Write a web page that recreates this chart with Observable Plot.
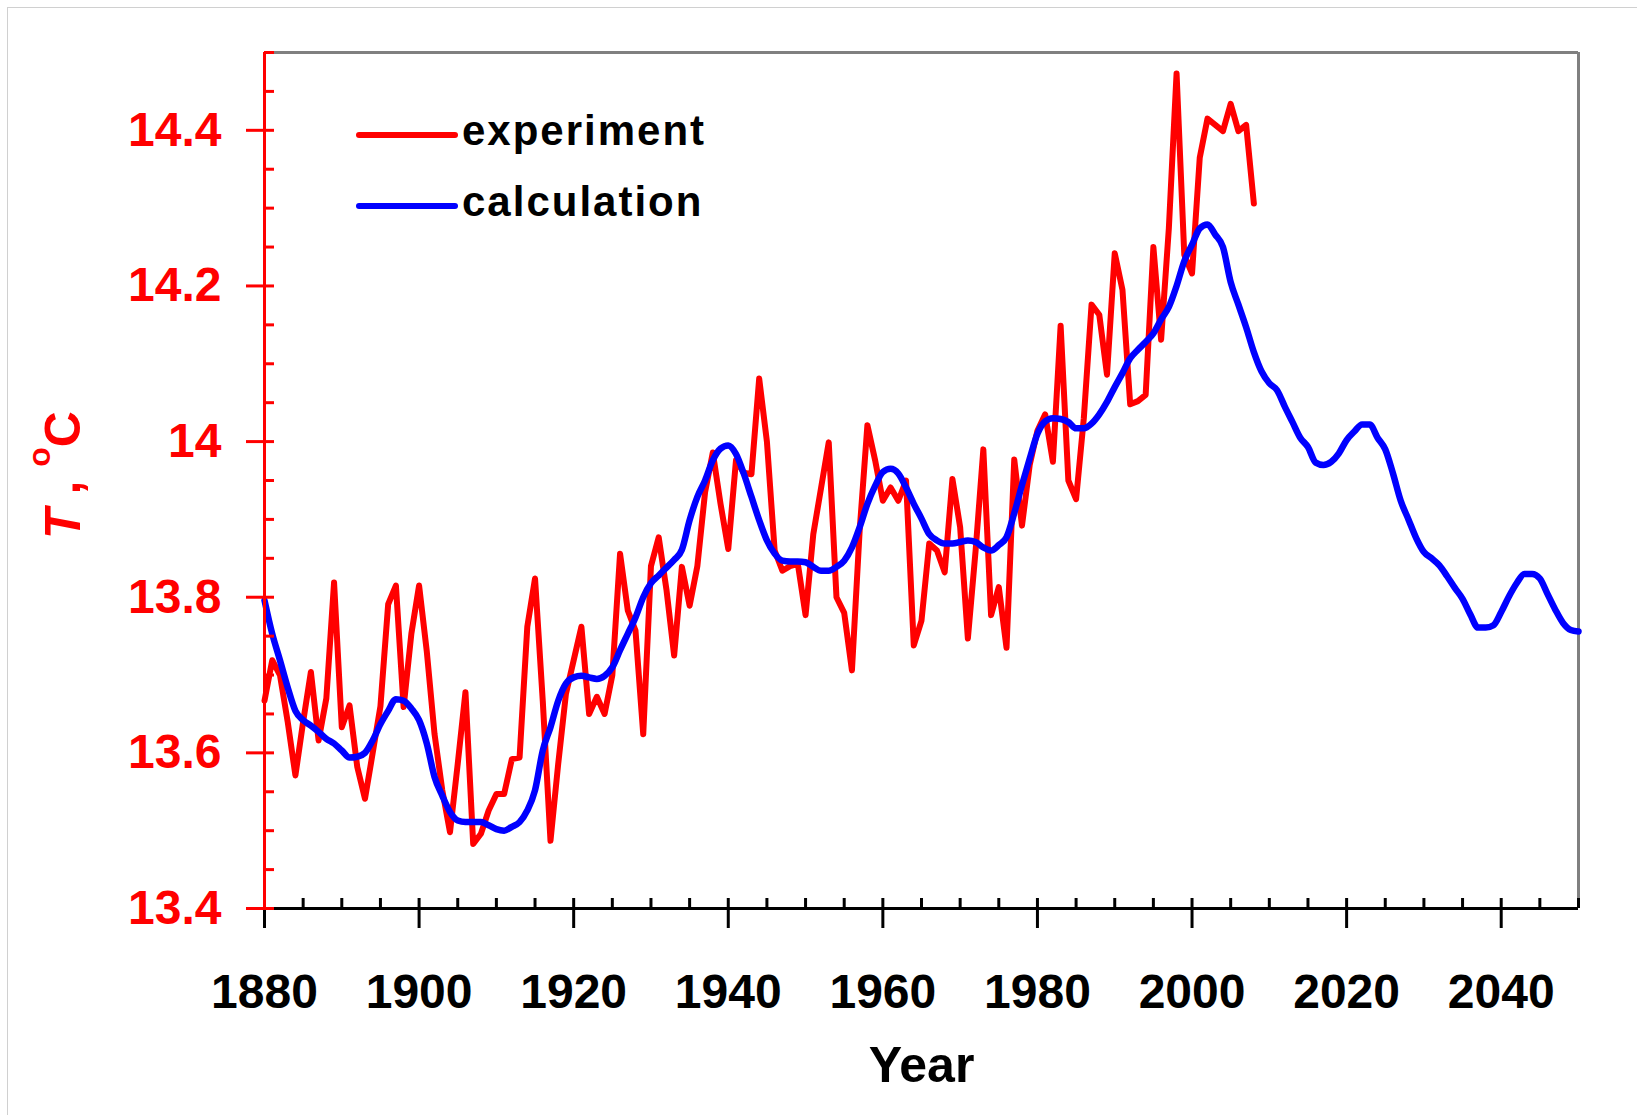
<!DOCTYPE html>
<html>
<head>
<meta charset="utf-8">
<script src="https://cdn.jsdelivr.net/npm/d3@7"></script>
<script src="https://cdn.jsdelivr.net/npm/@observablehq/plot@0.6"></script>
<style>
  html, body { margin: 0; padding: 0; background: #fff; }
  #chart { position: relative; width: 1637px; height: 1115px; }
  #chart svg { display: block; }
</style>
</head>
<body>
<div id="chart"></div>
<script>
// ---------------- DATA ----------------
const startYear = 1880;

// experiment: annual mean temperature, 1880..2008
const experiment = [
  13.667, 13.719, 13.700, 13.640, 13.571, 13.640, 13.704, 13.616, 13.670, 13.819,
  13.633, 13.661, 13.582, 13.541, 13.600, 13.660, 13.791, 13.815, 13.659, 13.753,
  13.815, 13.730, 13.624, 13.552, 13.498, 13.586, 13.678, 13.483, 13.496, 13.526,
  13.547, 13.547, 13.592, 13.594, 13.762, 13.824, 13.667, 13.487, 13.586, 13.676,
  13.719, 13.762, 13.650, 13.672, 13.650, 13.700, 13.856, 13.783, 13.757, 13.624,
  13.840, 13.877, 13.810, 13.725, 13.839, 13.789, 13.840, 13.935, 13.986, 13.920,
  13.862, 13.976, 13.960, 13.958, 14.081, 14.000, 13.860, 13.834, 13.840, 13.843,
  13.777, 13.881, 13.940, 13.999, 13.800, 13.780, 13.706, 13.886, 14.021, 13.976,
  13.924, 13.941, 13.924, 13.950, 13.738, 13.770, 13.869, 13.860, 13.832, 13.952,
  13.890, 13.747, 13.860, 13.990, 13.777, 13.813, 13.735, 13.977, 13.892, 13.970,
  14.014, 14.035, 13.974, 14.149, 13.950, 13.926, 14.030, 14.176, 14.163, 14.086,
  14.242, 14.195, 14.048, 14.052, 14.060, 14.250, 14.131, 14.274, 14.473, 14.240,
  14.216, 14.365, 14.415, 14.407, 14.399, 14.434, 14.399, 14.407, 14.306
];

// calculation: model curve, 1880..2050
const calculation = [
  13.796, 13.753, 13.719, 13.684, 13.654, 13.642, 13.635, 13.627, 13.618, 13.612,
  13.603, 13.594, 13.595, 13.600, 13.616, 13.637, 13.654, 13.669, 13.667, 13.657,
  13.642, 13.612, 13.569, 13.545, 13.524, 13.513, 13.511, 13.511, 13.511, 13.507,
  13.502, 13.500, 13.505, 13.511, 13.526, 13.552, 13.603, 13.633, 13.667, 13.689,
  13.697, 13.699, 13.697, 13.695, 13.699, 13.710, 13.732, 13.753, 13.774, 13.800,
  13.818, 13.828, 13.838, 13.848, 13.861, 13.899, 13.929, 13.950, 13.976, 13.991,
  13.995, 13.984, 13.959, 13.929, 13.899, 13.873, 13.856, 13.847, 13.846, 13.846,
  13.845, 13.839, 13.834, 13.834, 13.839, 13.847, 13.864, 13.890, 13.920, 13.943,
  13.961, 13.965, 13.959, 13.941, 13.920, 13.901, 13.881, 13.873, 13.869, 13.869,
  13.871, 13.873, 13.871, 13.864, 13.860, 13.867, 13.877, 13.908, 13.944, 13.978,
  14.010, 14.026, 14.030, 14.029, 14.025, 14.017, 14.017, 14.023, 14.035, 14.051,
  14.070, 14.088, 14.107, 14.118, 14.128, 14.139, 14.157, 14.173, 14.200, 14.232,
  14.253, 14.274, 14.279, 14.266, 14.250, 14.205, 14.176, 14.147, 14.115, 14.090,
  14.075, 14.066, 14.045, 14.025, 14.005, 13.993, 13.973, 13.970, 13.974, 13.985,
  14.002, 14.013, 14.022, 14.022, 14.005, 13.990, 13.959, 13.924, 13.900, 13.876,
  13.858, 13.850, 13.841, 13.827, 13.812, 13.798, 13.778, 13.761, 13.761, 13.764,
  13.781, 13.801, 13.818, 13.830, 13.830, 13.824, 13.804, 13.784, 13.767, 13.758,
  13.756
];

const seriesNames = ["experiment", "calculation"];
const yMajorTicks = [13.4, 13.6, 13.8, 14.0, 14.2, 14.4];
const yTickLabels = ["13.4", "13.6", "13.8", "14", "14.2", "14.4"];
const yMinorTicks = [13.45, 13.5, 13.55, 13.65, 13.7, 13.75, 13.85, 13.9, 13.95,
                     14.05, 14.1, 14.15, 14.25, 14.3, 14.35, 14.45, 14.5];
const xMajorTicks = [1880, 1900, 1920, 1940, 1960, 1980, 2000, 2020, 2040];
const xTickLabels = ["1880", "1900", "1920", "1940", "1960", "1980", "2000", "2020", "2040"];
const xMinorTicks = [1885, 1890, 1895, 1905, 1910, 1915, 1925, 1930, 1935, 1945, 1950, 1955,
                     1965, 1970, 1975, 1985, 1990, 1995, 2005, 2010, 2015, 2025, 2030, 2035,
                     2045, 2050];
const xLabel = "Year";

// ---------------- CHART ----------------
const expData = experiment.map((t, i) => ({ year: startYear + i, t }));
const calcData = calculation.map((t, i) => ({ year: startYear + i, t }));

const RED = "#ff0000", BLUE = "#0000ff", GRAY = "#808080";
const FONT = "'Liberation Sans', Arial, Helvetica, sans-serif";

const chart = Plot.plot({
  width: 1637,
  height: 1115,
  marginLeft: 264,
  marginRight: 59,
  marginTop: 52,
  marginBottom: 207,
  style: { fontFamily: FONT, fontWeight: "bold", background: "white", overflow: "visible" },
  x: { domain: [1880, 2050] },
  y: { domain: [13.4, 14.5] },
  marks: [
    // gray frame top & right
    Plot.ruleY([14.5], { stroke: GRAY, strokeWidth: 3 }),
    Plot.ruleX([2050], { stroke: GRAY, strokeWidth: 3 }),
    // data
    Plot.line(expData, { x: "year", y: "t", stroke: RED, strokeWidth: 6, strokeLinejoin: "round", strokeLinecap: "round" }),
    Plot.line(calcData, { x: "year", y: "t", stroke: BLUE, strokeWidth: 6.5, curve: "monotone-x", strokeLinejoin: "round", strokeLinecap: "round" }),
    // x axis line + ticks
    Plot.ruleY([13.4], { stroke: "black", strokeWidth: 3 }),
    Plot.axisX({ ticks: xMajorTicks, anchor: "bottom", tickSize: 30, dy: -10, stroke: "black", strokeWidth: 3, fill: "none", label: null }),
    Plot.axisX({ ticks: xMinorTicks, anchor: "bottom", tickSize: 10, dy: -10, stroke: "black", strokeWidth: 3, fill: "none", label: null }),
    Plot.axisX({ ticks: xMajorTicks, anchor: "bottom", tickSize: 0, tickPadding: 65,
                 tickFormat: d => xTickLabels[xMajorTicks.indexOf(d)],
                 fill: "black", fontSize: 48, fontWeight: "bold", label: null }),
    // y axis line + ticks (red)
    Plot.ruleX([1880], { stroke: RED, strokeWidth: 3 }),
    Plot.axisY({ ticks: yMajorTicks, anchor: "left", tickSize: 28, dx: 10, stroke: RED, strokeWidth: 3, fill: "none", label: null }),
    Plot.axisY({ ticks: yMinorTicks, anchor: "left", tickSize: 10, dx: 10, stroke: RED, strokeWidth: 3, fill: "none", label: null }),
    Plot.axisY({ ticks: yMajorTicks, anchor: "left", tickSize: 0, tickPadding: 43,
                 tickFormat: d => yTickLabels[yMajorTicks.indexOf(d)],
                 fill: RED, fontSize: 48, fontWeight: "bold", label: null }),
    // x axis title
    Plot.text([xLabel], { frameAnchor: "bottom", dy: 157, lineAnchor: "middle", fontSize: 50, fontWeight: "bold", fill: "black" })
  ]
});

document.getElementById("chart").appendChild(chart);

// ---------------- decorations: outer border, legend, y title ----------------
const svg = d3.select(chart);

svg.append("line").attr("x1", 7.5).attr("x2", 7.5).attr("y1", 7).attr("y2", 1115)
  .attr("stroke", "#d0d0d0").attr("stroke-width", 1);
svg.append("line").attr("x1", 7).attr("x2", 1637).attr("y1", 7.5).attr("y2", 7.5)
  .attr("stroke", "#d0d0d0").attr("stroke-width", 1);

const legend = svg.append("g").attr("font-family", FONT).attr("font-weight", "bold");
const legendItems = [
  { name: seriesNames[0], color: RED, y: 135, base: 145 },
  { name: seriesNames[1], color: BLUE, y: 206, base: 216 }
];
legendItems.forEach(item => {
  legend.append("line")
    .attr("x1", 359).attr("x2", 455).attr("y1", item.y).attr("y2", item.y)
    .attr("stroke", item.color).attr("stroke-width", 6).attr("stroke-linecap", "round");
  legend.append("text")
    .attr("x", 462).attr("y", item.base)
    .attr("text-anchor", "start")
    .attr("font-size", 42).attr("letter-spacing", 2).attr("fill", "black")
    .text(item.name);
});

const yTitle = svg.append("text")
  .attr("transform", "translate(80,475) rotate(-90)")
  .attr("text-anchor", "middle")
  .attr("font-family", FONT).attr("font-weight", "bold")
  .attr("font-size", 50).attr("fill", RED);
yTitle.append("tspan").attr("font-style", "italic").text("T");
yTitle.append("tspan").text(" , ");
yTitle.append("tspan").attr("dy", -30).attr("font-size", 32).text("o");
yTitle.append("tspan").attr("dy", 30).text("C");
</script>
</body>
</html>
